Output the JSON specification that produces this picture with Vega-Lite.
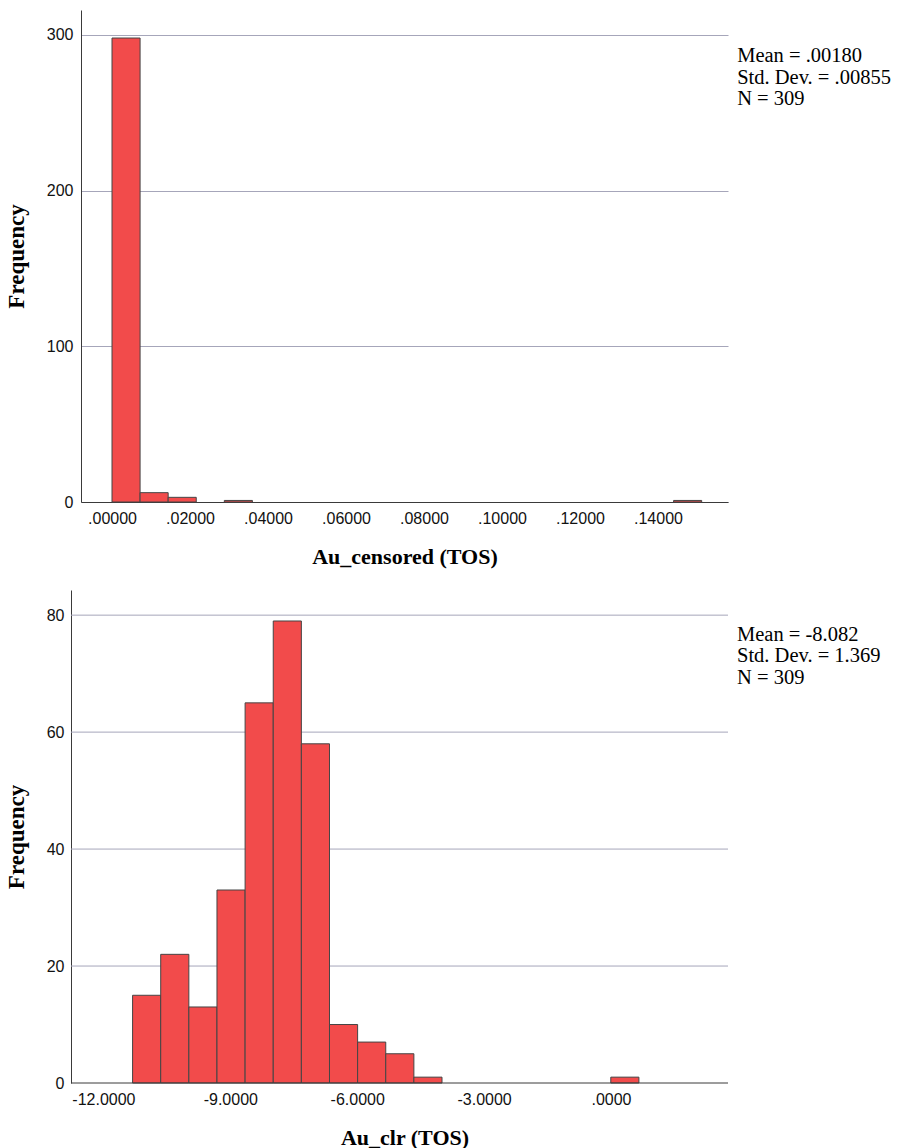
{
  "$schema": "https://vega.github.io/schema/vega-lite/v6.json",
  "background": "white",
  "padding": {"left": 5, "top": 10, "right": 0, "bottom": 0},
  "spacing": 88,
  "bounds": "flush",
  "center": true,
  "config": {
    "view": {"stroke": null},
    "axis": {
      "domainColor": "#3a3a3a",
      "domainWidth": 1,
      "ticks": false,
      "labelFont": "Liberation Sans",
      "labelFontSize": 16,
      "labelColor": "#111111",
      "labelOverlap": false,
      "labelFlush": false,
      "titleFont": "Liberation Serif",
      "titleFontWeight": "bold",
      "titleFontSize": 22,
      "titleColor": "#000000",
      "gridColor": "#a6a6ba",
      "gridWidth": 1
    },
    "axisX": {"grid": false, "labelPadding": 8, "titlePadding": 20},
    "axisY": {"grid": true, "labelPadding": 8, "titlePadding": 18, "titleFontSize": 23}
  },
  "vconcat": [
    {
      "width": 647,
      "height": 492,
      "layer": [
        {
          "data": {"values": [
            {"start": 0.0, "end": 0.0072, "count": 298},
            {"start": 0.0072, "end": 0.0144, "count": 6},
            {"start": 0.0144, "end": 0.0216, "count": 3},
            {"start": 0.0288, "end": 0.036, "count": 1},
            {"start": 0.144, "end": 0.1512, "count": 1}
          ]},
          "mark": {"type": "bar", "fill": "#f24b4b", "stroke": "#454545", "strokeWidth": 1},
          "encoding": {
            "x": {"field": "start", "type": "quantitative",
              "scale": {"domain": [-0.00795, 0.15795], "nice": false, "zero": false},
              "axis": {"title": "Au_censored (TOS)", "values": [0, 0.02, 0.04, 0.06, 0.08, 0.1, 0.12, 0.14],
                "labelExpr": "datum.value == 0 ? '.00000' : substring(format(datum.value, '.5f'), 1)"}},
            "x2": {"field": "end"},
            "y": {"field": "count", "type": "quantitative",
              "scale": {"domain": [0, 316], "nice": false},
              "axis": {"title": "Frequency", "values": [0, 100, 200, 300]}},
            "y2": {"datum": 0}
          }
        },
        {
          "data": {"values": [
            {"start": 0.1603, "count": 292.7, "label": "Mean = .00180\nStd. Dev. = .00855\nN = 309"}
          ]},
          "mark": {"type": "text", "align": "left", "baseline": "top", "lineBreak": "\n",
            "font": "Liberation Serif", "fontSize": 20.5, "lineHeight": 21.5, "color": "#000000"},
          "encoding": {
            "x": {"field": "start", "type": "quantitative"},
            "y": {"field": "count", "type": "quantitative"},
            "text": {"field": "label"}
          }
        }
      ]
    },
    {
      "width": 667,
      "height": 493,
      "layer": [
        {
          "data": {"values": [
            {"start": -12.766, "end": 2.766, "count": 20},
            {"start": -12.766, "end": 2.766, "count": 40},
            {"start": -12.766, "end": 2.766, "count": 60},
            {"start": -12.766, "end": 2.766, "count": 80}
          ]},
          "mark": {"type": "rule", "color": "#a6a6ba", "strokeWidth": 1},
          "encoding": {
            "x": {"field": "start", "type": "quantitative"},
            "x2": {"field": "end"},
            "y": {"field": "count", "type": "quantitative"}
          }
        },
        {
          "data": {"values": [
            {"start": -11.31, "end": -10.645, "count": 15},
            {"start": -10.645, "end": -9.98, "count": 22},
            {"start": -9.98, "end": -9.315, "count": 13},
            {"start": -9.315, "end": -8.65, "count": 33},
            {"start": -8.65, "end": -7.985, "count": 65},
            {"start": -7.985, "end": -7.32, "count": 79},
            {"start": -7.32, "end": -6.655, "count": 58},
            {"start": -6.655, "end": -5.99, "count": 10},
            {"start": -5.99, "end": -5.325, "count": 7},
            {"start": -5.325, "end": -4.66, "count": 5},
            {"start": -4.66, "end": -3.995, "count": 1},
            {"start": -0.005, "end": 0.66, "count": 1}
          ]},
          "mark": {"type": "bar", "fill": "#f24b4b", "stroke": "#454545", "strokeWidth": 1},
          "encoding": {
            "x": {"field": "start", "type": "quantitative",
              "scale": {"domain": [-12.766, 3.0024], "nice": false, "zero": false},
              "axis": {"title": "Au_clr (TOS)", "values": [-12, -9, -6, -3, 0], "domain": false,
                "labelExpr": "datum.value == 0 ? '.0000' : '-' + format(-datum.value, '.4f')"}},
            "x2": {"field": "end"},
            "y": {"field": "count", "type": "quantitative",
              "scale": {"domain": [0, 84.3], "nice": false},
              "axis": {"title": "Frequency", "values": [0, 20, 40, 60, 80], "labelPadding": 7, "grid": false}},
            "y2": {"datum": 0}
          }
        },
        {
          "data": {"values": [
            {"start": -12.766, "end": 2.766, "count": 0}
          ]},
          "mark": {"type": "rule", "color": "#3a3a3a", "strokeWidth": 1},
          "encoding": {
            "x": {"field": "start", "type": "quantitative"},
            "x2": {"field": "end"},
            "y": {"field": "count", "type": "quantitative"}
          }
        },
        {
          "data": {"values": [
            {"start": 2.979, "count": 78.4, "label": "Mean = -8.082\nStd. Dev. = 1.369\nN = 309"}
          ]},
          "mark": {"type": "text", "align": "left", "baseline": "top", "lineBreak": "\n",
            "font": "Liberation Serif", "fontSize": 20.5, "lineHeight": 21.5, "color": "#000000"},
          "encoding": {
            "x": {"field": "start", "type": "quantitative"},
            "y": {"field": "count", "type": "quantitative"},
            "text": {"field": "label"}
          }
        }
      ]
    }
  ]
}
